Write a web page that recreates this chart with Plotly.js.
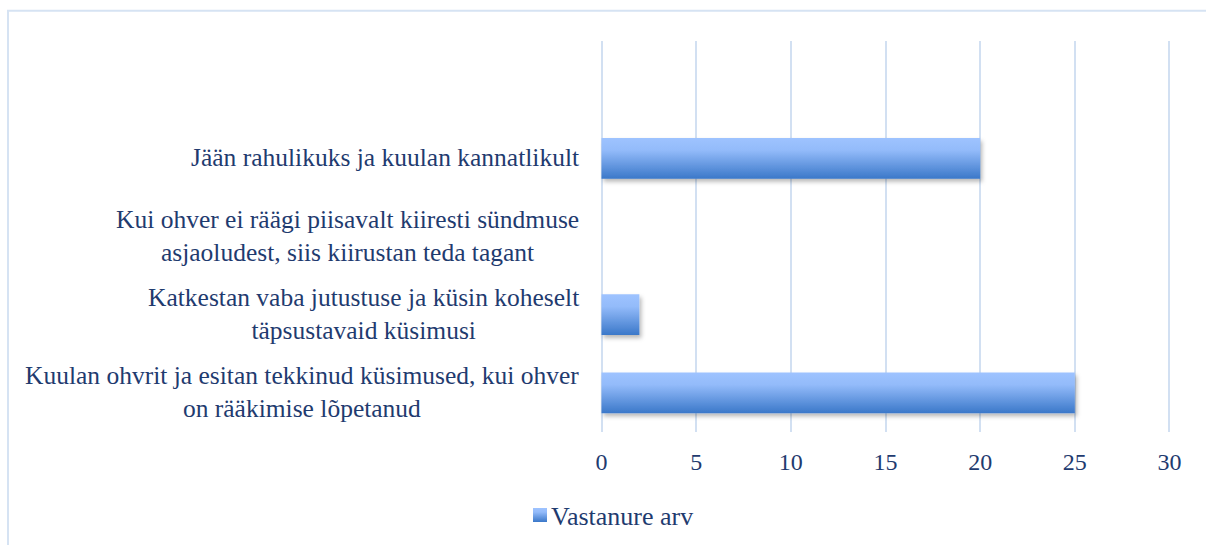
<!DOCTYPE html>
<html>
<head>
<meta charset="utf-8">
<script src="https://cdn.plot.ly/plotly-3.0.1.min.js"></script>
<style>html,body{margin:0;padding:0;background:#fff;}#chart{width:1206px;height:545px;}</style>
</head>
<body>
<div id="chart"></div>
<script>
const categories = [
  "Kuulan ohvrit ja esitan tekkinud küsimused, kui ohver<br>on rääkimise lõpetanud",
  "Katkestan vaba jutustuse ja küsin koheselt<br>täpsustavaid küsimusi",
  "Kui ohver ei räägi piisavalt kiiresti sündmuse<br>asjaoludest, siis kiirustan teda tagant",
  "Jään rahulikuks ja kuulan kannatlikult"
];
const values = [25, 2, 0, 20];
const seriesName = "Vastanure arv";
const xTicks = [0, 5, 10, 15, 20, 25, 30];

const textColor = "#1F3B6F";
const fontFamily = "'Liberation Serif', 'DejaVu Serif', serif";

const trace = {
  type: "bar",
  orientation: "h",
  x: values,
  y: categories,
  name: seriesName,
  width: 0.52,
  marker: {color: "#6A9DE6", line: {width: 0}},
  showlegend: true,
  hoverinfo: "x+y"
};

const annotations = categories.map(c => ({
  xref: "paper", yref: "y", x: 0, y: c,
  xanchor: "right", yanchor: "middle", xshift: -19, yshift: 1,
  text: c, showarrow: false, align: "center",
  font: {family: fontFamily, size: 25.5, color: textColor}
}));

const layout = {
  width: 1206, height: 545,
  margin: {l: 600, r: 35, t: 41, b: 113},
  paper_bgcolor: "#ffffff", plot_bgcolor: "#ffffff",
  font: {family: fontFamily, size: 24, color: textColor},
  xaxis: {
    range: [-0.08, 30.08], tickvals: xTicks, ticktext: xTicks.map(String),
    showgrid: true, gridcolor: "#D2E0F2", gridwidth: 2,
    zeroline: false, showline: false, ticks: "",
    tickfont: {family: fontFamily, size: 24, color: textColor},
    ticklabelstandoff: 13, fixedrange: true, automargin: false
  },
  yaxis: {
    type: "category", categoryorder: "array", categoryarray: categories,
    range: [-0.5, 4.5], showticklabels: false, showgrid: false,
    zeroline: false, showline: false, ticks: "", fixedrange: true, automargin: false
  },
  showlegend: true,
  legend: {
    orientation: "h", xref: "container", yref: "container",
    x: 511 / 1206, xanchor: "left", y: 1 - 515 / 545, yanchor: "middle",
    font: {family: fontFamily, size: 26, color: textColor},
    bgcolor: "rgba(0,0,0,0)"
  },
  annotations: annotations,
  shapes: [{
    type: "rect", xref: "paper", yref: "paper",
    x0: -1.0368, x1: 1.2, y0: -0.4, y1: 1.0771,
    line: {color: "#D6E3F3", width: 2}, fillcolor: "rgba(0,0,0,0)", layer: "below"
  }]
};

Plotly.newPlot("chart", [trace], layout, {displayModeBar: false, staticPlot: true}).then(gd => {
  const svg = gd.querySelector("svg.main-svg");
  const ns = "http://www.w3.org/2000/svg";
  let defs = svg.querySelector("defs");
  if (!defs) { defs = document.createElementNS(ns, "defs"); svg.insertBefore(defs, svg.firstChild); }
  const lg = document.createElementNS(ns, "linearGradient");
  lg.setAttribute("id", "barGrad");
  lg.setAttribute("x1", "0"); lg.setAttribute("y1", "0");
  lg.setAttribute("x2", "0"); lg.setAttribute("y2", "1");
  [["0", "#9EC3FF"], ["0.3", "#93BBFA"], ["1", "#3B78C9"]].forEach(([o, c]) => {
    const s = document.createElementNS(ns, "stop");
    s.setAttribute("offset", o); s.setAttribute("stop-color", c);
    lg.appendChild(s);
  });
  defs.appendChild(lg);
  const f = document.createElementNS(ns, "filter");
  f.setAttribute("id", "barShadow");
  f.setAttribute("x", "-10%"); f.setAttribute("y", "-20%");
  f.setAttribute("width", "130%"); f.setAttribute("height", "160%");
  const ds = document.createElementNS(ns, "feDropShadow");
  ds.setAttribute("dx", "2"); ds.setAttribute("dy", "3");
  ds.setAttribute("stdDeviation", "2"); ds.setAttribute("flood-color", "#000");
  ds.setAttribute("flood-opacity", "0.28");
  f.appendChild(ds);
  defs.appendChild(f);
  gd.querySelectorAll(".bars .point path").forEach(p => {
    p.style.fill = "url(#barGrad)";
    p.setAttribute("filter", "url(#barShadow)");
  });
  gd.querySelectorAll(".legend .legendpoints").forEach(g => {
    g.setAttribute("transform", "translate(9,0)");
    g.querySelectorAll("path").forEach(p => {
      p.setAttribute("d", "M7,7H-7V-7H7Z");
      p.style.fill = "url(#barGrad)";
    });
  });
});
</script>
</body>
</html>
